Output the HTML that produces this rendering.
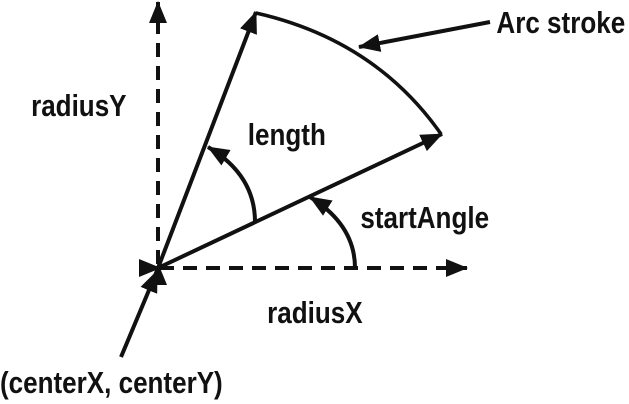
<!DOCTYPE html>
<html><head><style>
html,body{margin:0;padding:0;background:#fff;width:629px;height:404px;overflow:hidden}
svg text{font-family:"Liberation Sans",sans-serif;font-size:31px;font-weight:bold;fill:#111}
</style></head><body>
<svg width="629" height="404" viewBox="0 0 629 404">
<defs>
<marker id="a" viewBox="0 0 22 18" refX="21" refY="9" markerWidth="22" markerHeight="18" orient="auto" markerUnits="userSpaceOnUse">
<path d="M0,0 L22,9 L0,18 z" fill="#111"/></marker>
</defs>
<g stroke="#111" stroke-width="4" fill="none">
<line x1="158" y1="264" x2="158" y2="2" stroke-dasharray="14,9" marker-end="url(#a)" marker-start="url(#a)"/>
<line x1="160" y1="268" x2="467" y2="268" stroke-dasharray="14,9" marker-end="url(#a)" marker-start="url(#a)"/>
<line x1="158" y1="268" x2="256" y2="12" marker-end="url(#a)"/>
<line x1="158" y1="268" x2="442" y2="134" marker-end="url(#a)"/>
<path d="M256 13 Q375 40 441 134" stroke-width="3.5"/>
<path d="M255 222 Q255 175 208 147" marker-end="url(#a)"/>
<path d="M355 268 Q355 225 310 197" marker-end="url(#a)"/>
<line x1="121" y1="357" x2="157" y2="271" marker-end="url(#a)"/>
<line x1="490" y1="22" x2="359" y2="47" marker-end="url(#a)"/>
</g>
<g transform="scale(0.84,1)">
<text x="37" y="116">radiusY</text>
<text x="591" y="33">Arc stroke</text>
<text x="295" y="145">length</text>
<text x="429" y="228">startAngle</text>
<text x="318" y="323">radiusX</text>
<text x="0" y="393">(centerX, centerY)</text>
</g>
</svg>
</body></html>
